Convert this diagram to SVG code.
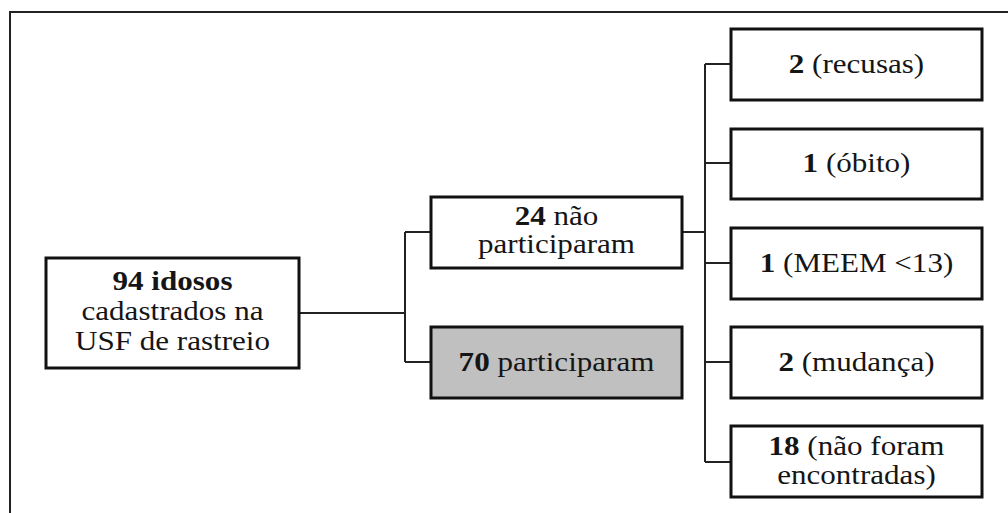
<svg xmlns="http://www.w3.org/2000/svg" width="1008" height="513" viewBox="0 0 1008 513">
<style>
.box{fill:#fff;stroke:#111;stroke-width:3}
.grey{fill:#c0c0c0}
.ln{fill:none;stroke:#222;stroke-width:2}
.t{font-size:27.5px;fill:#151515;text-anchor:middle}
.b{font-weight:bold}
</style>
<rect width="1008" height="513" fill="#fff"/>
<path class="ln" d="M10,513 V12 H1008"/>
<g id="connectors">
<path class="ln" d="M299,313 H405 M405,232 V362 M405,232 H431 M405,362 H431"/>
<path class="ln" d="M682,232 H705 M705,64 V462 M705,64 H731 M705,163 H731 M705,263 H731 M705,362 H731 M705,462 H731"/>
</g>
<g font-family="Liberation Serif, Tinos, Times New Roman, Times, serif">
<g id="n94">
<rect class="box" x="46" y="258" width="253" height="110"/>
<text class="t b" transform="translate(172.5,290) scale(1.13,1)">94 idosos</text>
<text class="t" transform="translate(172.5,320) scale(1.13,1)">cadastrados na</text>
<text class="t" transform="translate(172.5,350) scale(1.13,1)">USF de rastreio</text>
</g>
<g id="n24">
<rect class="box" x="431" y="197" width="251" height="71"/>
<text class="t" transform="translate(556.5,225) scale(1.13,1)"><tspan class="b">24</tspan> não</text>
<text class="t" transform="translate(556.5,253) scale(1.13,1)">participaram</text>
</g>
<g id="n70">
<rect class="box grey" x="431" y="327" width="251" height="71"/>
<text class="t" transform="translate(556.5,371) scale(1.13,1)"><tspan class="b">70</tspan> participaram</text>
</g>
<g id="r1">
<rect class="box" x="731" y="29" width="251" height="71"/>
<text class="t" transform="translate(856.5,73) scale(1.13,1)"><tspan class="b">2</tspan> (recusas)</text>
</g>
<g id="r2">
<rect class="box" x="731" y="129" width="251" height="70"/>
<text class="t" transform="translate(856.5,172) scale(1.13,1)"><tspan class="b">1</tspan> (óbito)</text>
</g>
<g id="r3">
<rect class="box" x="731" y="228" width="251" height="71"/>
<text class="t" transform="translate(856.5,272) scale(1.13,1)"><tspan class="b">1</tspan> (MEEM &lt;13)</text>
</g>
<g id="r4">
<rect class="box" x="731" y="327" width="251" height="71"/>
<text class="t" transform="translate(856.5,371) scale(1.13,1)"><tspan class="b">2</tspan> (mudança)</text>
</g>
<g id="r5">
<rect class="box" x="731" y="426" width="251" height="71"/>
<text class="t" transform="translate(856.5,455) scale(1.13,1)"><tspan class="b">18</tspan> (não foram</text>
<text class="t" transform="translate(856.5,484) scale(1.13,1)">encontradas)</text>
</g>
</g>
</svg>
